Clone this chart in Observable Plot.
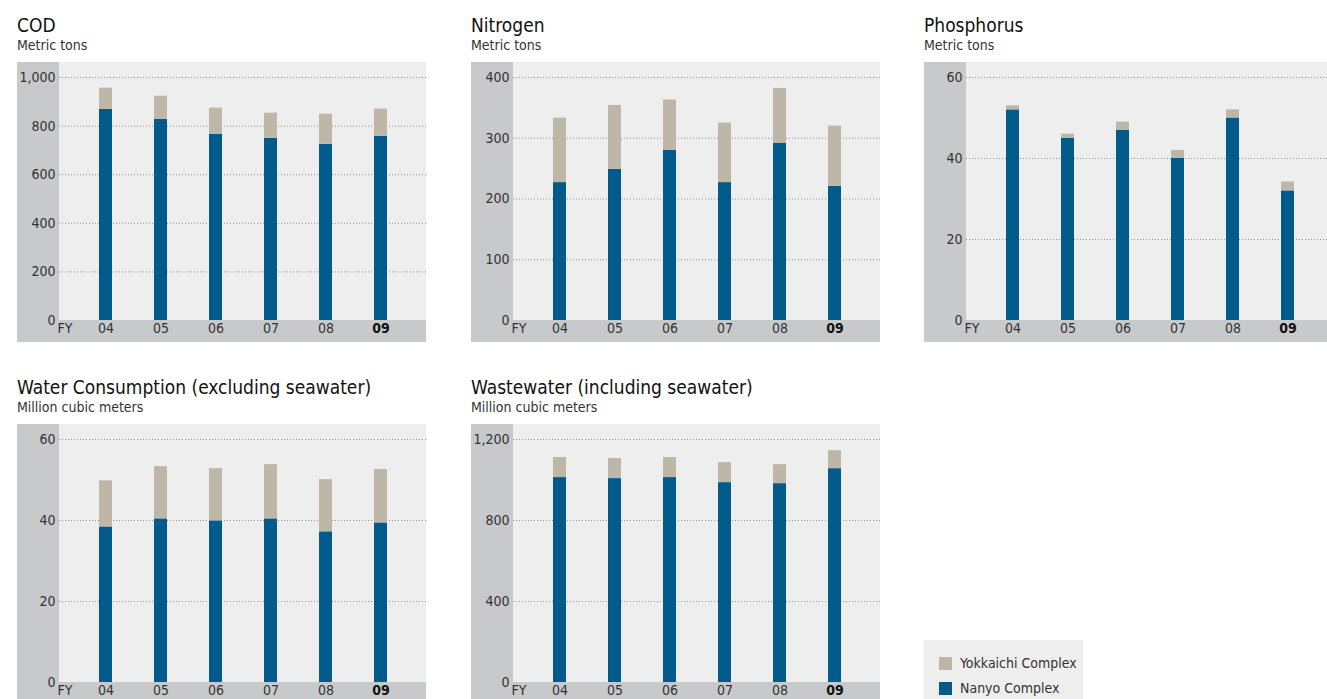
<!DOCTYPE html>
<html>
<head>
<meta charset="utf-8">
<script src="https://cdn.jsdelivr.net/npm/d3@7"></script>
<script src="https://cdn.jsdelivr.net/npm/@observablehq/plot@0.6"></script>
<style>
  html, body { margin: 0; padding: 0; background: #fff; overflow: hidden; }
  body { width: 1327px; height: 699px; position: relative;
         font-family: "Liberation Sans Narrow", "DejaVu Sans Condensed", "Roboto", sans-serif; font-stretch: condensed; color: #111; }
  .title { position: absolute; font-size: 19px; line-height: 20px; white-space: nowrap; color: #111; }
  .sub { position: absolute; font-size: 14px; line-height: 14px; white-space: nowrap; color: #333; }
  .chart { position: absolute; width: 409px; height: 280px; }
  .chart svg { max-width: none !important; }
  .legend { position: absolute; left: 924px; top: 640px; width: 159px; height: 70px; background: #edeeed; }
  .legend .item { position: absolute; left: 15px; font-size: 14px; line-height: 14px; color: #333; white-space: nowrap; }
  .legend .sw { display: inline-block; width: 13px; height: 13px; vertical-align: -2px; margin-right: 8px; }
</style>
</head>
<body>
<div id="root"></div>
<script>
// ---- data ----
const years = ["04", "05", "06", "07", "08", "09"];
const complexes = ["Nanyo Complex", "Yokkaichi Complex"];
const colors = ["#005a8a", "#beb7a8"];

const codNanyo = [869, 828, 766, 750, 725, 758];
const codYokkaichi = [87, 95, 108, 103, 124, 112];
const codTicks = [0, 200, 400, 600, 800, 1000];

const nitrogenNanyo = [227, 249, 280, 227, 292, 221];
const nitrogenYokkaichi = [106, 105, 83, 98, 90, 99];
const nitrogenTicks = [0, 100, 200, 300, 400];

const phosphorusNanyo = [52, 45, 47, 40, 50, 32];
const phosphorusYokkaichi = [1, 1, 2, 2, 2, 2.2];
const phosphorusTicks = [0, 20, 40, 60];

const waterNanyo = [38.4, 40.4, 39.9, 40.4, 37.2, 39.4];
const waterYokkaichi = [11.4, 12.9, 12.9, 13.4, 12.9, 13.2];
const waterTicks = [0, 20, 40, 60];

const wasteNanyo = [1012, 1007, 1012, 987, 982, 1056];
const wasteYokkaichi = [99, 99, 99, 99, 94, 89];
const wasteTicks = [0, 400, 800, 1200];

const panels = [
  {title: "COD", sub: "Metric tons", nanyo: codNanyo, yok: codYokkaichi, ticks: codTicks, left: 17, top: 62},
  {title: "Nitrogen", sub: "Metric tons", nanyo: nitrogenNanyo, yok: nitrogenYokkaichi, ticks: nitrogenTicks, left: 471, top: 62},
  {title: "Phosphorus", sub: "Metric tons", nanyo: phosphorusNanyo, yok: phosphorusYokkaichi, ticks: phosphorusTicks, left: 924, top: 62},
  {title: "Water Consumption (excluding seawater)", sub: "Million cubic meters", nanyo: waterNanyo, yok: waterYokkaichi, ticks: waterTicks, left: 17, top: 424},
  {title: "Wastewater (including seawater)", sub: "Million cubic meters", nanyo: wasteNanyo, yok: wasteYokkaichi, ticks: wasteTicks, left: 471, top: 424}
];

const W = 409, H = 280, ML = 42, MB = 22, MT = 15;
const FONT = '"Liberation Sans Narrow", "DejaVu Sans Condensed", "Roboto", sans-serif';
const root = document.getElementById("root");

for (const p of panels) {
  const rows = [];
  years.forEach((yr, i) => {
    rows.push({year: yr, complex: complexes[0], value: p.nanyo[i]});
    rows.push({year: yr, complex: complexes[1], value: p.yok[i]});
  });
  const maxTick = p.ticks[p.ticks.length - 1];
  const svg = Plot.plot({
    width: W, height: H,
    marginLeft: ML, marginRight: 0, marginTop: MT, marginBottom: MB,
    style: {
      fontFamily: FONT, fontSize: "14px", color: "#333", overflow: "visible", maxWidth: "none",
      background: "linear-gradient(#c8c9cb,#c8c9cb) left top / 42px 100% no-repeat, linear-gradient(#c8c9cb,#c8c9cb) left bottom / 100% 22px no-repeat, #edeeed"
    },
    x: {domain: years, paddingInner: 0.766, paddingOuter: 0.683, axis: null, label: null},
    y: {domain: [0, maxTick], axis: null, label: null},
    color: {domain: complexes, range: colors},
    marks: [
      Plot.gridY(p.ticks.filter(t => t > 0), {stroke: "#8f8f8f", strokeOpacity: 1, strokeDasharray: "1,2"}),
      Plot.barY(rows, {x: "year", y: "value", fill: "complex", order: complexes}),
      Plot.axisY(p.ticks, {tickSize: 0, tickPadding: 4, fontSize: 14, fill: "#333", label: null, tickFormat: d3.format(",")}),
      Plot.axisX(years.slice(0, -1), {tickSize: 0, tickPadding: 3, fontSize: 14, fill: "#333", label: null}),
      Plot.axisX(years.slice(-1), {tickSize: 0, tickPadding: 3, fontSize: 14, fill: "#111", fontWeight: "bold", label: null}),
      Plot.text(["FY"], {frameAnchor: "bottom-left", textAnchor: "start", lineAnchor: "top", dy: 3, dx: -2, fontSize: 14, fill: "#333"})
    ]
  });
  const t = document.createElement("div");
  t.className = "title"; t.textContent = p.title;
  t.style.left = p.left + "px"; t.style.top = (p.top - 47) + "px";
  const s = document.createElement("div");
  s.className = "sub"; s.textContent = p.sub;
  s.style.left = p.left + "px"; s.style.top = (p.top - 24) + "px";
  const c = document.createElement("div");
  c.className = "chart"; c.style.left = p.left + "px"; c.style.top = p.top + "px";
  c.appendChild(svg);
  root.appendChild(t); root.appendChild(s); root.appendChild(c);
}

// legend
const lg = document.createElement("div");
lg.className = "legend";
[complexes[1], complexes[0]].forEach((name, i) => {
  const it = document.createElement("div");
  it.className = "item";
  it.style.top = (16 + i * 25) + "px";
  const sw = document.createElement("span");
  sw.className = "sw"; sw.style.background = colors[complexes.indexOf(name)];
  it.appendChild(sw);
  it.appendChild(document.createTextNode(name));
  lg.appendChild(it);
});
root.appendChild(lg);
</script>
</body>
</html>
